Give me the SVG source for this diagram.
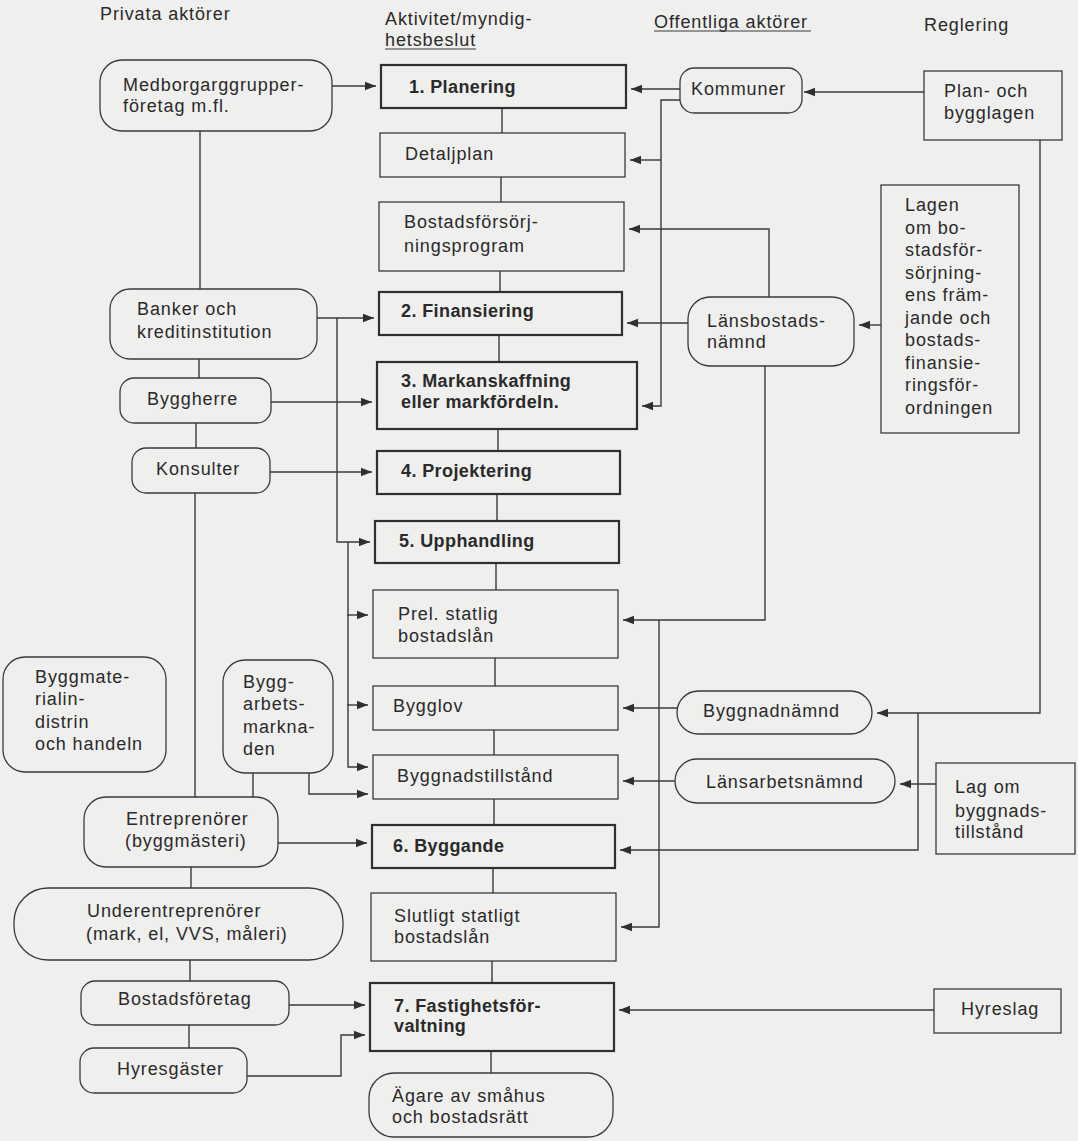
<svg xmlns="http://www.w3.org/2000/svg" width="1078" height="1141" viewBox="0 0 1078 1141">
<style>
text{font-family:"Liberation Sans",Arial,sans-serif;font-size:18px;fill:#2a2a2a;letter-spacing:0.9px}
.b{font-weight:bold;letter-spacing:0.4px}
.box{fill:none;stroke:#3a3a3a;stroke-width:1.3}
.bold{fill:none;stroke:#2f2f2f;stroke-width:2.2}
.rnd{fill:none;stroke:#3a3a3a;stroke-width:1.3}
.ln{fill:none;stroke:#3a3a3a;stroke-width:1.4}
.ar{marker-end:url(#ah)}
.ul{stroke:#3a3a3a;stroke-width:1}
</style>
<defs>
<marker id="ah" markerUnits="userSpaceOnUse" markerWidth="12" markerHeight="10" refX="11" refY="5" orient="auto">
<path d="M0,0.8 L11,5 L0,9.2 Z" fill="#2f2f2f"/>
</marker>
</defs>
<rect x="0" y="0" width="1078" height="1141" fill="#efefed"/>

<g id="headers">
<text x="100" y="20">Privata aktörer</text>
<text x="385" y="25">Aktivitet/myndig-</text>
<text x="385" y="46">hetsbeslut</text>
<line class="ul" x1="385" y1="49" x2="476" y2="49"/>
<text x="654" y="28">Offentliga aktörer</text>
<line class="ul" x1="654" y1="31" x2="811" y2="31"/>
<text x="924" y="31">Reglering</text>
</g>

<g id="connectors">
<!-- left spine -->
<path class="ln" d="M200,131 V289"/>
<path class="ln" d="M199,359 V378"/>
<path class="ln" d="M196,423 V448"/>
<path class="ln" d="M195,493 V797"/>
<path class="ln" d="M253,773 V797"/>
<path class="ln" d="M191,867 V888"/>
<path class="ln" d="M190,960 V981"/>
<path class="ln" d="M189,1025 V1048"/>
<!-- center spine -->
<path class="ln" d="M502,108 V133"/>
<path class="ln" d="M501,177 V202"/>
<path class="ln" d="M500,271 V292"/>
<path class="ln" d="M499,335 V362"/>
<path class="ln" d="M498,429 V451"/>
<path class="ln" d="M497,494 V521"/>
<path class="ln" d="M496,563 V590"/>
<path class="ln" d="M495,658 V686"/>
<path class="ln" d="M494,730 V755"/>
<path class="ln" d="M494,799 V825"/>
<path class="ln" d="M493,868 V893"/>
<path class="ln" d="M492,961 V983"/>
<path class="ln" d="M491,1051 V1073"/>
<!-- left to center -->
<path class="ln ar" d="M332,86 H376"/>
<path class="ln ar" d="M317,318 H374"/>
<path class="ln ar" d="M337,318 V542 H370"/>
<path class="ln ar" d="M271,402 H372"/>
<path class="ln ar" d="M270,472 H372"/>
<path class="ln ar" d="M348,542 V767 H368"/>
<path class="ln ar" d="M347,615 H368"/>
<path class="ln ar" d="M347,705 H368"/>
<path class="ln ar" d="M309,773 V794 H368"/>
<path class="ln ar" d="M278,843 H367"/>
<path class="ln ar" d="M289,1005 H365"/>
<path class="ln ar" d="M247,1076 H341 V1035 H365"/>
<!-- right to center -->
<path class="ln ar" d="M680,89 H631"/>
<path class="ln ar" d="M924,92 H804"/>
<path class="ln ar" d="M680,100 H661 V406 H642"/>
<path class="ln ar" d="M661,160 H630"/>
<path class="ln ar" d="M688,323 H627"/>
<path class="ln ar" d="M881,325 H859"/>
<path class="ln ar" d="M769,297 V229 H629"/>
<path class="ln ar" d="M765,366 V620 H623"/>
<path class="ln ar" d="M659,620 V927 H621"/>
<path class="ln ar" d="M677,708 H623"/>
<path class="ln ar" d="M1040,140 V713 H877"/>
<path class="ln ar" d="M918,713 V850 H620"/>
<path class="ln ar" d="M675,781 H623"/>
<path class="ln ar" d="M936,784 H900"/>
<path class="ln ar" d="M934,1010 H619"/>
</g>

<!-- center column -->
<g id="planering"><rect class="bold" x="381" y="65" width="245" height="43"/><text class="b" x="409" y="93">1. Planering</text></g>
<g id="detaljplan"><rect class="box" x="380" y="133" width="245" height="44"/><text x="405" y="160">Detaljplan</text></g>
<g id="bostadsprogram"><rect class="box" x="379" y="202" width="245" height="69"/><text x="404" y="228">Bostadsförsörj-</text><text x="404" y="252">ningsprogram</text></g>
<g id="finansiering"><rect class="bold" x="379" y="292" width="243" height="43"/><text class="b" x="401" y="317">2. Finansiering</text></g>
<g id="markanskaffning"><rect class="bold" x="377" y="362" width="260" height="67"/><text class="b" x="401" y="387">3. Markanskaffning</text><text class="b" x="401" y="408">eller markfördeln.</text></g>
<g id="projektering"><rect class="bold" x="377" y="451" width="243" height="43"/><text class="b" x="401" y="477">4. Projektering</text></g>
<g id="upphandling"><rect class="bold" x="375" y="521" width="244" height="42"/><text class="b" x="399" y="547">5. Upphandling</text></g>
<g id="prel"><rect class="box" x="373" y="590" width="245" height="68"/><text x="398" y="620">Prel. statlig</text><text x="398" y="642">bostadslån</text></g>
<g id="bygglov"><rect class="box" x="373" y="686" width="245" height="44"/><text x="393" y="712">Bygglov</text></g>
<g id="byggnadstillstand"><rect class="box" x="373" y="755" width="245" height="44"/><text x="397" y="782">Byggnadstillstånd</text></g>
<g id="byggande"><rect class="bold" x="372" y="825" width="243" height="43"/><text class="b" x="393" y="852">6. Byggande</text></g>
<g id="slutligt"><rect class="box" x="371" y="893" width="245" height="68"/><text x="394" y="922">Slutligt statligt</text><text x="394" y="943">bostadslån</text></g>
<g id="forvaltning"><rect class="bold" x="370" y="983" width="244" height="68"/><text class="b" x="394" y="1012">7. Fastighetsför-</text><text class="b" x="394" y="1032">valtning</text></g>
<g id="agare"><rect class="rnd" x="369" y="1073" width="244" height="64" rx="25"/><text x="392" y="1102">Ägare av småhus</text><text x="392" y="1123">och bostadsrätt</text></g>

<!-- left column -->
<g id="medborgar"><rect class="rnd" x="100" y="60" width="232" height="71" rx="22"/><text x="123" y="91">Medborgarggrupper-</text><text x="123" y="112">företag m.fl.</text></g>
<g id="banker"><rect class="rnd" x="110" y="289" width="207" height="70" rx="20"/><text x="137" y="315">Banker och</text><text x="137" y="338">kreditinstitution</text></g>
<g id="byggherre"><rect class="rnd" x="120" y="378" width="151" height="45" rx="14"/><text x="147" y="405">Byggherre</text></g>
<g id="konsulter"><rect class="rnd" x="132" y="448" width="138" height="45" rx="14"/><text x="156" y="475">Konsulter</text></g>
<g id="byggmaterial"><rect class="rnd" x="3" y="657" width="163" height="115" rx="22"/><text x="35" y="683">Byggmate-</text><text x="35" y="705">rialin-</text><text x="35" y="728">distrin</text><text x="35" y="750">och handeln</text></g>
<g id="byggarbetsmarknaden"><rect class="rnd" x="223" y="660" width="110" height="113" rx="22"/><text x="243" y="688">Bygg-</text><text x="243" y="710">arbets-</text><text x="243" y="733">markna-</text><text x="243" y="755">den</text></g>
<g id="entreprenorer"><rect class="rnd" x="84" y="797" width="194" height="70" rx="22"/><text x="126" y="825">Entreprenörer</text><text x="125" y="847">(byggmästeri)</text></g>
<g id="underentreprenorer"><rect class="rnd" x="14" y="888" width="329" height="72" rx="34"/><text x="87" y="917">Underentreprenörer</text><text x="86" y="940">(mark, el, VVS, måleri)</text></g>
<g id="bostadsforetag"><rect class="rnd" x="81" y="981" width="208" height="44" rx="14"/><text x="118" y="1005">Bostadsföretag</text></g>
<g id="hyresgaster"><rect class="rnd" x="80" y="1048" width="167" height="45" rx="14"/><text x="117" y="1075">Hyresgäster</text></g>

<!-- public actors -->
<g id="kommuner"><rect class="rnd" x="680" y="68" width="122" height="45" rx="14"/><text x="691" y="95">Kommuner</text></g>
<g id="lansbostadsnamnd"><rect class="rnd" x="688" y="297" width="166" height="69" rx="22"/><text x="707" y="327">Länsbostads-</text><text x="707" y="348">nämnd</text></g>
<g id="byggnadnamnd"><rect class="rnd" x="677" y="691" width="195" height="43" rx="21.5"/><text x="703" y="717">Byggnadnämnd</text></g>
<g id="lansarbetsnamnd"><rect class="rnd" x="675" y="759" width="220" height="44" rx="22"/><text x="706" y="788">Länsarbetsnämnd</text></g>

<!-- regulation -->
<g id="pbl"><rect class="box" x="924" y="71" width="138" height="69"/><text x="944" y="97">Plan- och</text><text x="944" y="119">bygglagen</text></g>
<g id="lagen-bostad"><rect class="box" x="881" y="185" width="138" height="248"/>
<text x="905" y="211">Lagen</text><text x="905" y="233.5">om bo-</text><text x="905" y="256">stadsför-</text><text x="905" y="278.5">sörjning-</text><text x="905" y="301">ens främ-</text><text x="905" y="323.5">jande och</text><text x="905" y="346">bostads-</text><text x="905" y="368.5">finansie-</text><text x="905" y="391">ringsför-</text><text x="905" y="413.5">ordningen</text></g>
<g id="lag-byggnadstillstand"><rect class="box" x="936" y="763" width="139" height="91"/><text x="955" y="793">Lag om</text><text x="955" y="817">byggnads-</text><text x="955" y="838">tillstånd</text></g>
<g id="hyreslag"><rect class="box" x="934" y="989" width="127" height="44"/><text x="961" y="1015">Hyreslag</text></g>
</svg>
